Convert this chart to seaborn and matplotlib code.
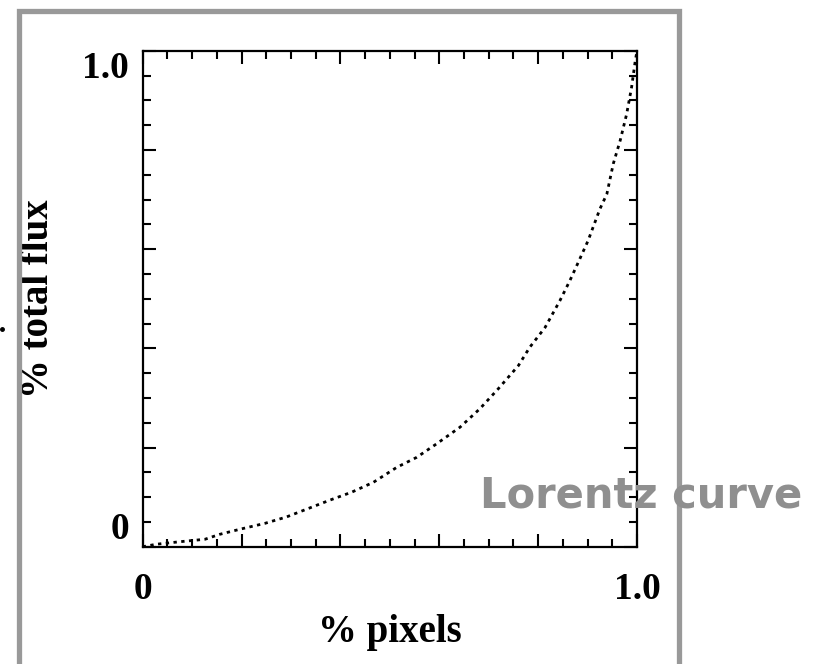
import numpy as np
import matplotlib
matplotlib.use("Agg")
import matplotlib.pyplot as plt
from matplotlib.ticker import MultipleLocator
from matplotlib.lines import Line2D
import seaborn as sns

# ---- data ----
pixels_frac = [0, 0.028, 0.075, 0.126, 0.156, 0.2, 0.247, 0.291, 0.335, 0.379,
               0.423, 0.467, 0.514, 0.554, 0.594, 0.642, 0.682, 0.719, 0.760,
               0.783, 0.814, 0.844, 0.864, 0.881, 0.901, 0.925, 0.939, 0.952,
               0.966, 0.979, 0.989, 0.996, 1.0]
flux_frac = [0, 0.005, 0.01, 0.015, 0.025, 0.036, 0.047, 0.06, 0.077, 0.094,
             0.11, 0.13, 0.16, 0.18, 0.207, 0.241, 0.278, 0.318, 0.365,
             0.402, 0.442, 0.496, 0.536, 0.573, 0.617, 0.681, 0.711, 0.772,
             0.819, 0.872, 0.926, 0.976, 1.0]
major_ticks = [0, 0.2, 0.4, 0.6, 0.8, 1.0]
x_tick_labels = ["0", "", "", "", "", "1.0"]
y_tick_labels = ["0", "", "", "", "", "1.0"]
x_label = "% pixels"
y_label = "% total flux"
annotation = "Lorentz curve"

sns.set_style("ticks")
plt.rcParams["font.family"] = ["Liberation Serif", "DejaVu Serif"]

W, H = 819, 664
fig = plt.figure(figsize=(W / 100, H / 100), dpi=100)
ax = fig.add_axes([142.7 / W, 1 - 546.7 / H, (637 - 142.7) / W, (546.7 - 50.7) / H])

sns.lineplot(x=pixels_frac, y=flux_frac, ax=ax, color="black", sort=False,
             linewidth=2.0, linestyle=(0, (1.2, 1.6)), estimator=None)

ax.set_xlim(0, 1)
ax.set_ylim(0, 1)
ax.set_xticks(major_ticks)
ax.set_yticks(major_ticks)
ax.set_xticklabels(x_tick_labels)
ax.set_yticklabels(y_tick_labels)
ax.xaxis.set_minor_locator(MultipleLocator(0.05))
ax.yaxis.set_minor_locator(MultipleLocator(0.05))

for s in ax.spines.values():
    s.set_visible(True)
    s.set_linewidth(1.6)
    s.set_color("black")

ax.tick_params(which="both", direction="in", top=True, right=True,
               color="black", width=1.5)
ax.tick_params(which="major", length=9.5)
ax.tick_params(which="minor", length=6)
ax.tick_params(axis="x", which="major", pad=18, labelsize=27)
ax.tick_params(axis="y", which="major", pad=10, labelsize=27)

for lbl in ax.get_xticklabels() + ax.get_yticklabels():
    lbl.set_fontweight("bold")
    lbl.set_color("black")
ylbls = ax.get_yticklabels()
ylbls[0].set_va("bottom")
ylbls[-1].set_va("top")

ax.set_xlabel(x_label, fontsize=28, fontweight="bold", color="black")
ax.set_ylabel(y_label, fontsize=28, fontweight="bold", color="black")
ax.xaxis.set_label_coords(0.5, -0.136)
ax.yaxis.set_label_coords(-0.173, 0.5)

# gray frame (open at the bottom)
fx = [18.5 / W, 18.5 / W, 679 / W, 679 / W]
fy = [-0.05, 1 - 11 / H, 1 - 11 / H, -0.05]
fig.add_artist(Line2D(fx, fy, transform=fig.transFigure, color="#999999",
                      linewidth=3.8, solid_joinstyle="miter"))

# small stray mark at the left edge
fig.add_artist(Line2D([1.5 / W], [1 - 329 / H], transform=fig.transFigure,
                      marker="o", markersize=2.5, color="black", linestyle="none"))

fig.text(480 / W, 1 - 508 / H, annotation, fontsize=30, fontweight="bold",
         color="#8f8f8f", family="DejaVu Sans", ha="left", va="baseline")

fig.savefig("out.png", dpi=100)
